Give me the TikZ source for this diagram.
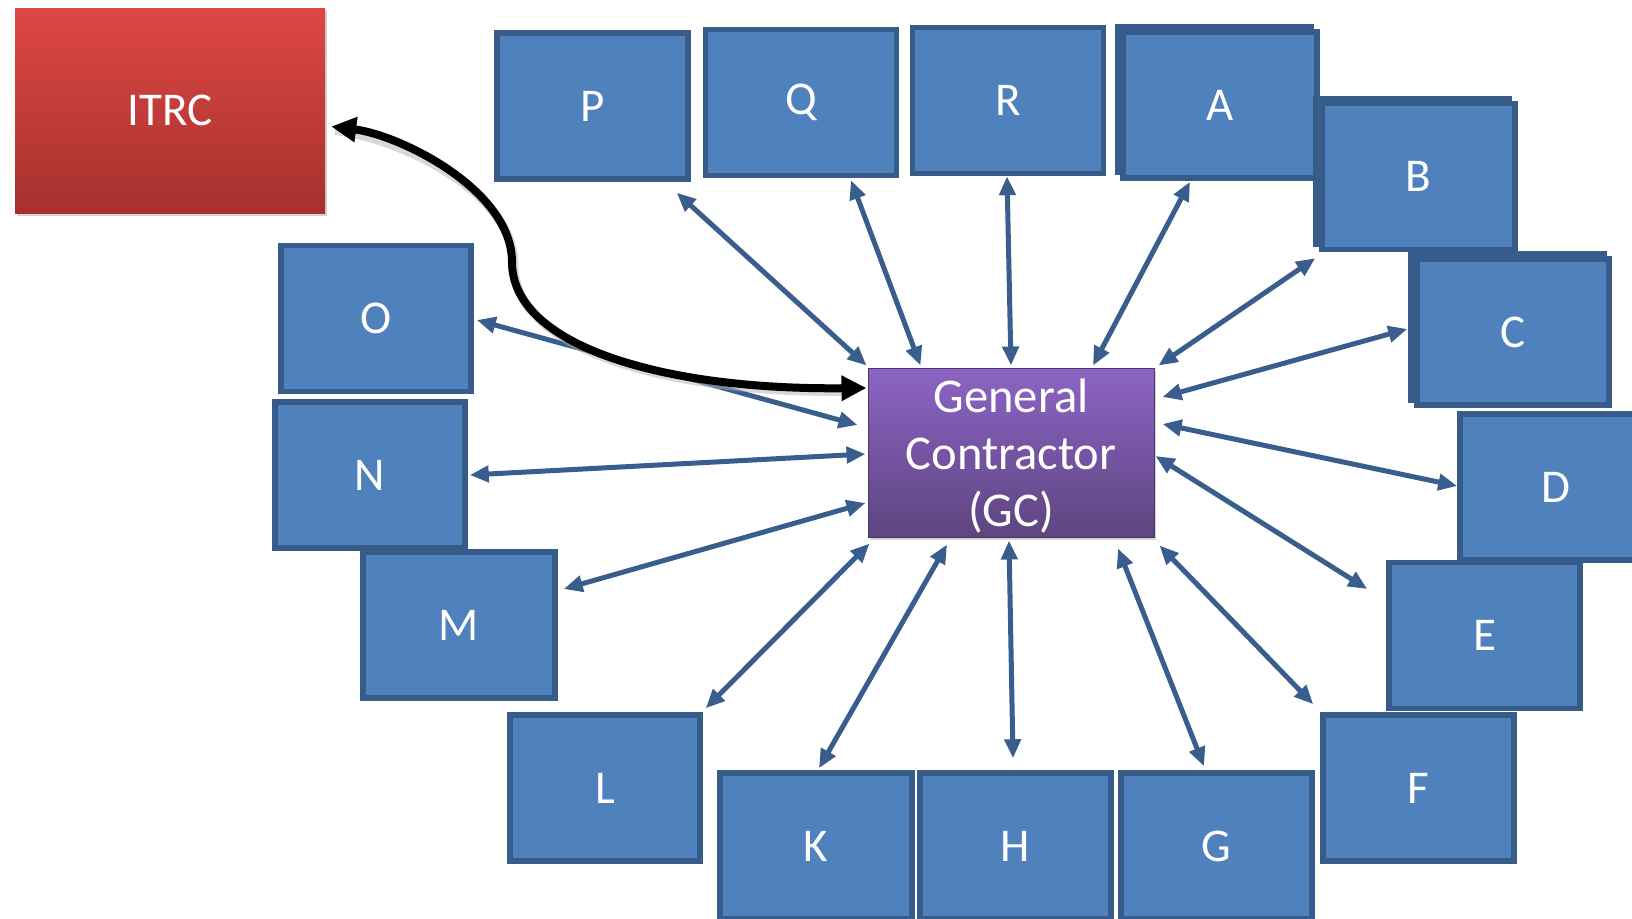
\documentclass[tikz,border=0pt]{standalone}
\usepackage{fontspec}
\setmainfont{Carlito}
\usetikzlibrary{arrows.meta,shadows,calc}

\definecolor{boxfill}{RGB}{79,129,189}
\definecolor{boxline}{RGB}{56,92,138}
\definecolor{linkblue}{RGB}{57,94,142}
\definecolor{redtop}{RGB}{221,72,68}
\definecolor{redbot}{RGB}{166,48,46}
\definecolor{purtop}{RGB}{140,100,196}
\definecolor{purbot}{RGB}{94,69,128}

\tikzset{
  lbl/.style={text=white, font=\fontsize{47}{57}\selectfont, align=center},
  blk/.style={lbl, rectangle, fill=boxfill, draw=boxline, line width=5.5pt,
              minimum width=191pt, minimum height=146pt, inner sep=0pt},
  ghost/.style={rectangle, fill=boxfill, draw=boxline, line width=5.5pt,
              minimum width=193pt, minimum height=146pt, inner sep=0pt},
  redbox/.style={lbl, rectangle, top color=redtop, bottom color=redbot,
              minimum width=310pt, minimum height=205pt, inner sep=0pt,
              drop shadow={opacity=0.35, shadow xshift=2pt, shadow yshift=-3pt}},
  gcbox/.style={rectangle, top color=purtop, bottom color=purbot,
              draw=purbot!80!black, line width=1pt,
              minimum width=286pt, minimum height=169pt, inner sep=0pt,
              drop shadow={opacity=0.35, shadow xshift=2pt, shadow yshift=-3pt}},
  link/.style={draw=linkblue, line width=5pt,
              {Triangle[length=19pt,width=16pt]}-{Triangle[length=19pt,width=16pt]}},
  toitrc/.style={draw=black, line width=8pt,
              {Triangle[length=25pt,width=24pt]}-{Triangle[length=25pt,width=24pt]}},
}

\begin{document}
\begin{tikzpicture}[x=1pt,y=-1pt]
\useasboundingbox (0,0) rectangle (1632,918);
\clip (0,0) rectangle (1632,918);

% central contractor and the external ITRC
\node[redbox] (ITRC) at (170,110.5) {ITRC};
\node[gcbox] (GC) at (1011,452.5) {};
\node[lbl, font=\fontsize{48.5}{57}\selectfont] (GCtext) at ([yshift=-4pt]GC.center)
  {General\\Contractor\\(GC)};

% surrounding parties
\node[blk] (P) at (592.5,106) {P};
\node[blk] (Q) at (801,102.5) {Q};
\node[blk] (R) at (1008,100.5) {R};
\node[ghost] (A0) at (1214.5,99.5) {};
\node[blk, minimum width=194pt] (A) at (1220,105) {A};
\node[ghost] (B0) at (1412.5,171.5) {};
\node[blk, minimum width=193pt] (B) at (1418.5,176.5) {B};
\node[ghost] (C0) at (1507.5,327) {};
\node[blk, minimum width=192pt] (C) at (1513,332) {C};
\node[blk, minimum width=192pt] (D) at (1556,487) {D};
\node[blk] (E) at (1484.5,635.5) {E};
\node[blk] (F) at (1418.5,788) {F};
\node[blk] (G) at (1216.5,846) {G};
\node[blk] (H) at (1015.5,846) {H};
\node[blk, minimum width=192pt] (K) at (816,846) {K};
\node[blk, minimum width=190pt] (L) at (605,788) {L};
\node[blk, minimum width=192pt] (M) at (459,625) {M};
\node[blk, minimum width=190pt] (N) at (370,475) {N};
\node[blk, minimum width=190pt] (O) at (376,318.5) {O};

% two-way links between the contractor and each party
\draw[link] ([shift={(-14,11)}]P.south east) -- ([shift={(-1,-2)}]GC.north west);
\draw[link] ([shift={(50,2)}]Q.south) -- ([shift={(53,-2)}]GC.north west);
\draw[link] ([shift={(-1,0)}]R.south) -- ([shift={(0,-2)}]GC.north);
\draw[link] ([shift={(-30,1)}]A.south) -- ([shift={(82,-2)}]GC.north);
\draw[link] ([shift={(-4,6)}]B.south west) -- ([shift={(4,-2)}]GC.north east);
\draw[link] ([shift={(-7,-3)}]C.west) -- ([shift={(8,-55.5)}]GC.east);
\draw[link] ([shift={(0,-1)}]D.west) -- ([shift={(8,-28.5)}]GC.east);
\draw[link] ([shift={(-19,-46.5)}]E.west) -- ([shift={(1,3.5)}]GC.east);
\draw[link] ([shift={(-7,-8)}]F.north west) -- ([shift={(5,8)}]GC.south east);
\draw[link] ([shift={(-12.5,-4)}]G.north) -- ([shift={(107,11)}]GC.south);
\draw[link] ([shift={(-2.5,-12)}]H.north) -- ([shift={(-2,3)}]GC.south);
\draw[link] ([shift={(3,-2)}]K.north) -- ([shift={(-64,7)}]GC.south);
\draw[link] ([shift={(3,-4)}]L.north east) -- ([shift={(2,6)}]GC.south west);
\draw[link] ([shift={(6,-36)}]M.east) -- ([shift={(-2,50.5)}]GC.west);
\draw[link] ([shift={(2,0)}]N.east) -- ([shift={(-2,1.5)}]GC.west);
\draw[link] ([shift={(3,1.5)}]O.east) -- ([shift={(-10,-27.5)}]GC.west);

% reporting line to the ITRC
\coordinate (bend) at (512,262);
\draw[black!30, line width=9pt, opacity=0.5]
  ([shift={(10,20)}]ITRC.east) .. controls (404,139) and (514,194) .. ([shift={(2,3)}]bend)
  .. controls (514,348) and (662,393) .. ([shift={(-20,-61)}]GC.west);
\draw[toitrc] ([shift={(6,16)}]ITRC.east) .. controls (400,135) and (512,190) .. (bend)
  .. controls (512,345) and (660,390) .. ([shift={(-1,-64.5)}]GC.west);
\end{tikzpicture}
\end{document}
